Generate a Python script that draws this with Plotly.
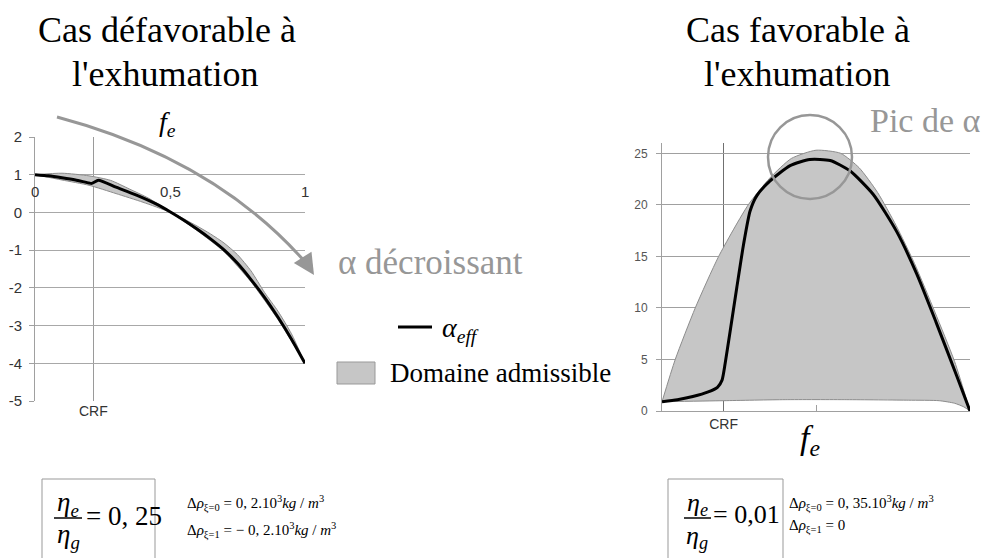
import plotly.graph_objects as go

W, H = 995, 558

# ---------------- DATA ----------------
CRF_LEFT = 0.216
CRF_RIGHT = 0.2

# Left chart: "Cas défavorable à l'exhumation"
left_eff_x = [0, 0.05, 0.1, 0.15, 0.2, 0.21, 0.235, 0.3, 0.376, 0.45, 0.5, 0.55, 0.6, 0.65, 0.7,
              0.75, 0.8, 0.85, 0.9, 0.95, 1.0]
left_eff_y = [1.0, 0.97, 0.92, 0.86, 0.78, 0.77, 0.85, 0.67, 0.46, 0.22, 0.02, -0.2, -0.44, -0.7, -0.99,
              -1.35, -1.78, -2.25, -2.78, -3.36, -4.0]
left_up_x = [0, 0.1, 0.2, 0.28, 0.35, 0.42, 0.5, 0.6, 0.65, 0.7, 0.75, 0.8, 0.85, 0.9, 0.95, 1.0]
left_up_y = [1.0, 1.04, 0.97, 0.85, 0.62, 0.38, 0.03, -0.36, -0.57, -0.81, -1.12, -1.55, -2.12, -2.62, -3.22, -4.0]
left_lo_x = [0, 0.1, 0.2, 0.3, 0.4, 0.5, 0.6, 0.7, 0.8, 0.9, 1.0]
left_lo_y = [1.0, 0.86, 0.72, 0.5, 0.27, 0.0, -0.48, -1.04, -1.84, -2.84, -4.0]
left_y_ticks = [2, 1, 0, -1, -2, -3, -4, -5]
left_x_labels = [(0, "0"), (0.5, "0,5"), (1, "1")]

# Right chart: "Cas favorable à l'exhumation"
right_eff_x = [0, 0.05, 0.1, 0.15, 0.18, 0.195, 0.205, 0.22, 0.243, 0.265, 0.286, 0.308, 0.35,
               0.416, 0.48, 0.546, 0.61, 0.686, 0.762, 0.827, 0.89, 0.957, 1.0]
right_eff_y = [0.9, 1.1, 1.4, 1.85, 2.3, 3.0, 4.6, 7.5, 12.0, 16.2, 19.4, 20.9, 22.3,
               23.8, 24.4, 24.3, 23.3, 21.0, 17.4, 13.3, 8.6, 3.4, 0.0]
right_up_x = [0, 0.043, 0.108, 0.184, 0.28, 0.35, 0.42, 0.5, 0.58, 0.64, 0.70, 0.76, 0.82, 0.886, 0.95, 1.0]
right_up_y = [0.9, 5, 10, 15, 20, 22.6, 24.5, 25.3, 25.0, 23.6, 21.2, 18.0, 14.3, 9.6, 4.8, 0]
right_lo_x = [0, 0.2, 0.4, 0.6, 0.8, 0.9, 0.95, 0.98, 1.0]
right_lo_y = [0.9, 1.0, 1.1, 1.1, 1.05, 1.0, 0.75, 0.4, 0.0]
right_y_ticks = [0, 5, 10, 15, 20, 25]

SERIF = "Liberation Serif"
SANS = "Liberation Sans"
GRAY_TXT = "#979797"
FILL = "#c6c6c6"
EDGE = "#8c8c8c"


def px(x):
    return x / W


def py(y):
    return 1 - y / H


fig = go.Figure()


def domain(xl, yl, xu, yu, xa, ya):
    fig.add_trace(go.Scatter(x=xl, y=yl, mode="lines", xaxis=xa, yaxis=ya, hoverinfo="skip",
                             line=dict(color=EDGE, width=1, shape="spline", smoothing=0.6)))
    fig.add_trace(go.Scatter(x=xu, y=yu, mode="lines", xaxis=xa, yaxis=ya, hoverinfo="skip",
                             fill="tonexty", fillcolor=FILL,
                             line=dict(color=EDGE, width=1, shape="spline", smoothing=0.6)))


domain(left_lo_x, left_lo_y, left_up_x, left_up_y, "x", "y")
fig.add_trace(go.Scatter(
    x=left_eff_x, y=left_eff_y, mode="lines",
    line=dict(color="black", width=3, shape="spline", smoothing=0.5),
    xaxis="x", yaxis="y"))
domain(right_lo_x, right_lo_y, right_up_x, right_up_y, "x2", "y2")
fig.add_trace(go.Scatter(
    x=right_eff_x, y=right_eff_y, mode="lines",
    line=dict(color="black", width=3, shape="spline", smoothing=0.6),
    xaxis="x2", yaxis="y2"))

fig.update_layout(
    width=W, height=H, margin=dict(l=0, r=0, t=0, b=0, autoexpand=False),
    paper_bgcolor="white", plot_bgcolor="rgba(0,0,0,0)", showlegend=False,
    xaxis=dict(domain=[px(35), px(305)], range=[0, 1], tickvals=[CRF_LEFT], ticktext=["CRF"],
               showgrid=True, gridcolor="#9a9a9a", gridwidth=1, zeroline=False, showline=False,
               ticks="", automargin=False, tickfont=dict(family=SANS, size=14, color="#333")),
    yaxis=dict(domain=[py(401), py(137)], range=[-5, 2], tickvals=left_y_ticks,
               ticktext=[str(v) for v in left_y_ticks], showgrid=True, gridcolor="#a8a8a8",
               zeroline=False, showline=True, linecolor="#a0a0a0", ticks="outside", ticklen=5,
               tickcolor="#a0a0a0", ticklabelstandoff=4, automargin=False,
               tickfont=dict(family=SANS, size=15, color="#333")),
    xaxis2=dict(domain=[px(662), px(970)], range=[0, 1], anchor="y2", tickvals=[CRF_RIGHT],
                ticktext=["CRF"], showgrid=True, gridcolor="#707070", zeroline=False,
                showline=True, linecolor="#a0a0a0", ticks="", automargin=False,
                minor=dict(tickvals=[0.5], ticks="inside", ticklen=6, tickcolor="#a0a0a0", showgrid=False),
                tickfont=dict(family=SANS, size=14, color="#333")),
    yaxis2=dict(domain=[py(411), py(143)], range=[0, 26], anchor="x2", tickvals=right_y_ticks,
                ticktext=[str(v) for v in right_y_ticks], showgrid=True, gridcolor="#a0a0a0",
                zeroline=False, showline=True, linecolor="#a0a0a0", ticks="outside", ticklen=5,
                tickcolor="#a0a0a0", ticklabelstandoff=6, automargin=False,
                tickfont=dict(family=SANS, size=12, color="#555")),
)

ann = []


def txt(x, y, text, size, color="black", xanchor="center", family=SERIF, xref="paper", yref="paper"):
    ann.append(dict(x=x if xref != "paper" else px(x), y=y if yref != "paper" else py(y),
                    xref=xref, yref=yref, text=text, showarrow=False, xanchor=xanchor,
                    yanchor="middle", font=dict(family=family, size=size, color=color)))


# titles
txt(167, 30, "Cas défavorable à", 36)
txt(165, 74, "l'exhumation", 36)
txt(798, 30, "Cas favorable à", 36)
txt(797, 74, "l'exhumation", 36)

# left x tick labels (placed along the axis, above the zero line)
for xv, lab in left_x_labels:
    txt(xv, 0.55, lab, 15, color="#333", family=SANS, xref="x", yref="y")

txt(167, 123, "<i>f<sub>e</sub></i>", 28)
txt(336, 262, "α décroissant", 35, color=GRAY_TXT, xanchor="left")
txt(868, 120, "Pic de α", 34, color=GRAY_TXT, xanchor="left")
txt(810, 440, "<i>f<sub>e</sub></i>", 34)

# legend
txt(440, 329, "<i>α<sub>eff</sub></i>", 28, xanchor="left")
txt(388, 373, "Domaine admissible", 27, xanchor="left")

# formulas
txt(68, 504, "<i>η<sub>e</sub></i>", 27)
txt(68, 536, "<i>η<sub>g</sub></i>", 27)
txt(84, 516, "= 0, 25", 27, xanchor="left")
txt(185, 503, "Δ<i>ρ</i><sub>ξ=0</sub> = 0, 2.10<sup>3</sup><i>kg</i> / <i>m</i><sup>3</sup>", 15, xanchor="left")
txt(185, 530, "Δ<i>ρ</i><sub>ξ=1</sub> = − 0, 2.10<sup>3</sup><i>kg</i> / <i>m</i><sup>3</sup>", 15, xanchor="left")

txt(697, 504, "<i>η<sub>e</sub></i>", 26)
txt(697, 537, "<i>η<sub>g</sub></i>", 26)
txt(711, 514, "= 0,01", 26, xanchor="left")
txt(787, 503, "Δ<i>ρ</i><sub>ξ=0</sub> = 0, 35.10<sup>3</sup><i>kg</i> / <i>m</i><sup>3</sup>", 15, xanchor="left")
txt(787, 526, "Δ<i>ρ</i><sub>ξ=1</sub> = 0", 15, xanchor="left")

# arrow head of the curved arrow
ann.append(dict(x=px(314), y=py(275), ax=-9, ay=-14, xref="paper", yref="paper",
                showarrow=True, arrowhead=2, arrowsize=1.4,
                arrowwidth=3, arrowcolor=GRAY_TXT, text=" "))

fig.update_layout(annotations=ann)

shapes = []
# curved arrow body
p0, c, p2 = (57, 117), (215, 159), (306, 263)
shapes.append(dict(type="path", xref="paper", yref="paper",
                   path=f"M {px(p0[0])},{py(p0[1])} Q {px(c[0])},{py(c[1])} {px(p2[0])},{py(p2[1])}",
                   line=dict(color=GRAY_TXT, width=3)))
# circle around the peak
shapes.append(dict(type="circle", xref="paper", yref="paper",
                   x0=px(768), x1=px(852), y0=py(199), y1=py(115),
                   line=dict(color=GRAY_TXT, width=2.5)))
# legend marks
shapes.append(dict(type="line", xref="paper", yref="paper", x0=px(398), x1=px(432),
                   y0=py(327), y1=py(327), line=dict(color="black", width=3)))
shapes.append(dict(type="rect", xref="paper", yref="paper", x0=px(337), x1=px(375),
                   y0=py(384), y1=py(362), fillcolor=FILL, line=dict(color="#999", width=1)))
# formula boxes and fraction bars
shapes.append(dict(type="rect", xref="paper", yref="paper", x0=px(42), x1=px(155),
                   y0=py(575), y1=py(479), line=dict(color="#999", width=1)))
shapes.append(dict(type="rect", xref="paper", yref="paper", x0=px(668), x1=px(783),
                   y0=py(575), y1=py(479), line=dict(color="#999", width=1)))
shapes.append(dict(type="line", xref="paper", yref="paper", x0=px(54), x1=px(82),
                   y0=py(518), y1=py(518), line=dict(color="black", width=1.5)))
shapes.append(dict(type="line", xref="paper", yref="paper", x0=px(684), x1=px(711),
                   y0=py(518), y1=py(518), line=dict(color="black", width=1.5)))
fig.update_layout(shapes=shapes)

fig.write_html("out.html", config={"displayModeBar": False},
               post_script="document.body.style.margin='0';")
